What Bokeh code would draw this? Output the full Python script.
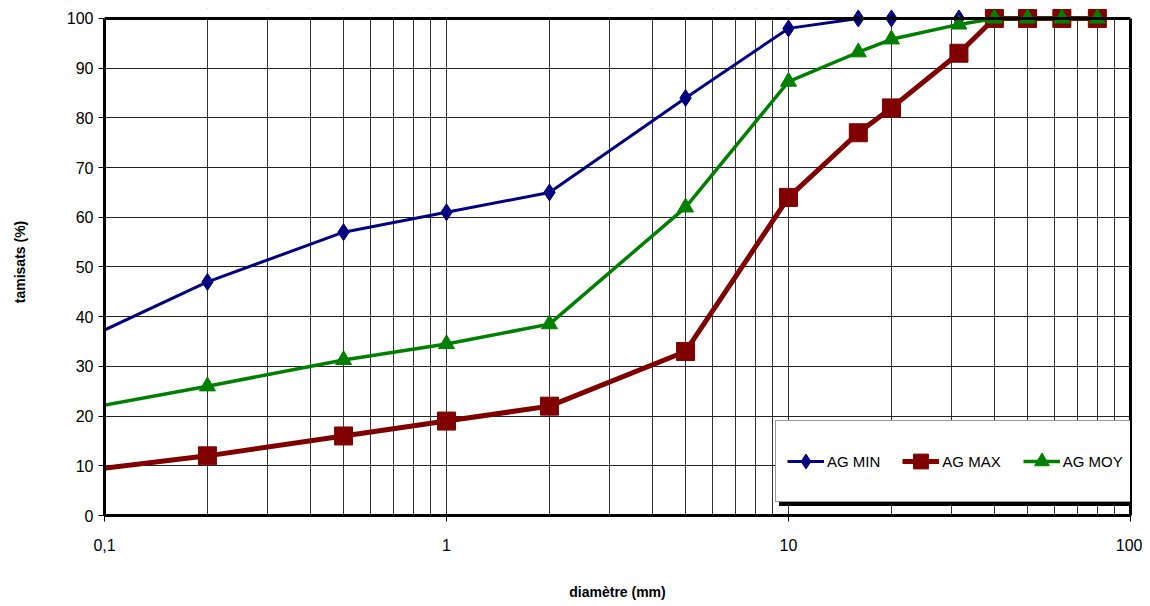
from bokeh.plotting import figure
from bokeh.models import (FixedTicker, Legend, LegendItem, LinearAxis, Span,
                          BoxAnnotation)
from bokeh.embed import file_html
from bokeh.resources import INLINE

# ---- data ----
diametres = [0.08, 0.2, 0.5, 1, 2, 5, 10, 16, 20, 31.5, 40, 50, 63, 80]
ag_min = [34.2, 47, 57, 61, 65, 84, 98, 100, 100, 100, 100, 100, 100, 100]
ag_max = [8.7, 12, 16, 19, 22, 33, 64, 77, 82, 93, 100, 100, 100, 100]
ag_moy = [21.0, 26, 31.3, 34.5, 38.5, 62, 87.3, 93.2, 95.8, 98.8, 100, 100, 100, 100]

x_ticks = [0.1, 1, 10, 100]
x_tick_labels = ["0,1", "1", "10", "100"]
x_minor = [0.2, 0.3, 0.4, 0.5, 0.6, 0.7, 0.8, 0.9,
           2, 3, 4, 5, 6, 7, 8, 9,
           20, 30, 40, 50, 60, 70, 80, 90]
y_ticks = [0, 10, 20, 30, 40, 50, 60, 70, 80, 90, 100]
x_min, x_max = 0.1, 100
y_min, y_max = 0, 100

FONT = "Liberation Sans"

p = figure(width=1142, height=602, x_axis_type="log",
           x_range=(x_min, x_max), y_range=(y_min, 102.0),
           output_backend="svg", toolbar_location=None,
           min_border_left=104, min_border_right=12,
           min_border_top=8, min_border_bottom=87)
p.outline_line_color = None
p.background_fill_color = "white"

# grids
xt = FixedTicker(ticks=x_ticks, minor_ticks=x_minor)
p.xaxis.ticker = xt
p.xgrid.ticker = xt
p.xgrid.grid_line_color = "#333333"
p.xgrid.grid_line_width = 1
p.xgrid.minor_grid_line_color = "#333333"
p.xgrid.minor_grid_line_width = 1
yt = FixedTicker(ticks=y_ticks)
p.yaxis.ticker = yt
p.ygrid.ticker = yt
p.ygrid.grid_line_color = "#222222"
p.ygrid.grid_line_width = 1

# white cover above 100
cover = BoxAnnotation(bottom=y_max, fill_color="white", fill_alpha=1,
                      line_color=None, level="underlay")
p.add_layout(cover)

# axes
xa = p.xaxis[0]
xa.major_label_overrides = dict(zip(x_ticks, x_tick_labels))
xa.axis_line_width = 3
xa.axis_line_color = "black"
xa.major_tick_out = 6
xa.major_tick_in = 0
xa.minor_tick_line_color = None
xa.major_label_standoff = 17
xa.major_label_text_font = FONT
xa.major_label_text_font_size = "16px"
xa.major_label_text_color = "black"
xa.axis_label = "diamètre (mm)"
xa.axis_label_text_font = FONT
xa.axis_label_text_font_size = "14px"
xa.axis_label_text_font_style = "bold"
xa.axis_label_text_color = "black"
xa.axis_label_standoff = 30

ya = p.yaxis[0]
ya.bounds = (y_min, y_max)
ya.axis_line_width = 3
ya.axis_line_color = "black"
ya.major_tick_out = 6
ya.major_tick_in = 0
ya.minor_tick_line_color = None
ya.major_label_standoff = 5
ya.major_label_text_font = FONT
ya.major_label_text_font_size = "16px"
ya.major_label_text_color = "black"
ya.axis_label = "tamisats (%)"
ya.axis_label_text_font = FONT
ya.axis_label_text_font_size = "14px"
ya.axis_label_text_font_style = "bold"
ya.axis_label_text_color = "black"
ya.axis_label_standoff = 36

ra = LinearAxis(ticker=FixedTicker(ticks=[]), bounds=(y_min, y_max),
                axis_line_width=3, axis_line_color="black",
                major_tick_line_color=None, minor_tick_line_color=None,
                major_label_text_color=None)
p.add_layout(ra, "right")

top = Span(location=y_max, dimension="width", line_color="black", line_width=3)
p.add_layout(top)

# series
l_min = p.line(diametres, ag_min, line_color="#000080", line_width=3)
s_min = p.scatter(diametres, ag_min, marker="diamond", size=17,
                  fill_color="#000080", line_color="#000080")
l_max = p.line(diametres, ag_max, line_color="#800000", line_width=5)
s_max = p.scatter(diametres, ag_max, marker="square", size=18,
                  fill_color="#800000", line_color="#800000")
l_moy = p.line(diametres, ag_moy, line_color="#008000", line_width=3.5)
s_moy = p.scatter(diametres, ag_moy, marker="triangle", size=16,
                  fill_color="#008000", line_color="#008000")

# legend shadow (single blank item sized to the main legend's box)
shadow = Legend(items=[LegendItem(label=" ", renderers=[l_min])],
                location=(675, 9), orientation="horizontal",
                padding=11, spacing=0, margin=0,
                glyph_width=312, glyph_height=58, label_height=58,
                label_width=20, label_standoff=3,
                label_text_font=FONT, label_text_font_size="15px",
                background_fill_color="black", background_fill_alpha=1,
                border_line_color="black", border_line_width=1)

legend = Legend(items=[LegendItem(label="AG MIN", renderers=[l_min, s_min]),
                       LegendItem(label="AG MAX", renderers=[l_max, s_max]),
                       LegendItem(label="AG MOY", renderers=[l_moy, s_moy])],
                location=(671, 13), orientation="horizontal",
                padding=11, spacing=22, margin=0,
                glyph_width=37, glyph_height=58, label_height=58,
                label_standoff=3, label_text_font=FONT,
                label_text_font_size="15px", label_text_color="black",
                background_fill_color="white", background_fill_alpha=1,
                border_line_color="#333333", border_line_width=1)
p.add_layout(shadow, "center")
p.add_layout(legend, "center")

open("out.html", "w").write(file_html(p, INLINE))
